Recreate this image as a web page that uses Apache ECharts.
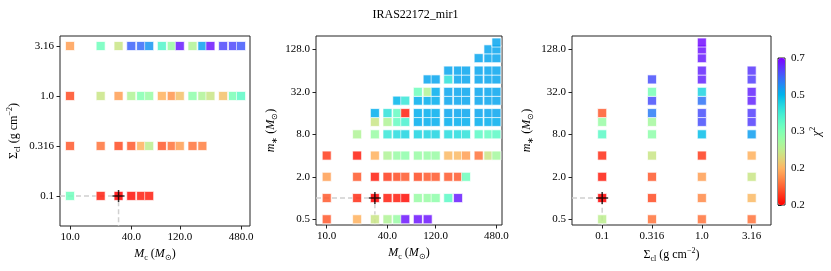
<!DOCTYPE html>
<html><head><meta charset="utf-8">
<script src="https://cdn.jsdelivr.net/npm/echarts@6/dist/echarts.min.js"></script>
<style>html,body{margin:0;padding:0;background:#fff}#c{width:831px;height:271px}</style>
</head><body><div id="c"></div>
<script>
// ---- grids of model parameters ----
const mcGrid = [10, 20, 30, 40, 50, 60, 80, 100, 120, 160, 200, 240, 320, 400, 480];
const sigmaGrid = [0.1, 0.316, 1.0, 3.16];
const mstarGrid = [0.5, 1, 2, 4, 8, 12, 16, 24, 32, 48, 64, 96, 128, 160];

// ---- panel 1: chi2 per (Mc) for each Sigma_cl level ----
const chiSig01   = [0.35, 0.17, 0.16, 0.165, 0.17, 0.17, null, null, null, null, null, null, null, null, null];
const chiSig0316 = [0.19, 0.2, 0.185, 0.19, 0.23, 0.28, 0.19, 0.2, 0.22, 0.2, 0.205, null, null, null, null];
const chiSig1    = [0.185, 0.27, 0.22, 0.29, 0.33, 0.31, 0.23, 0.215, 0.24, 0.32, 0.29, 0.27, 0.24, 0.34, 0.37];
const chiSig316  = [0.22, 0.35, 0.27, 0.58, 0.57, 0.52, 0.38, 0.31, 0.66, 0.29, 0.51, 0.67, 0.61, 0.61, 0.59];

// ---- panel 2: chi2, rows = m*, columns = Mc ----
const _ = null;
const chiMcMstar = [
  [0.19, 0.23, 0.27, 0.29, 0.31, 0.67, 0.67, 0.67, _, _, _, _, _, _, _],
  [0.19, 0.175, 0.16, 0.17, 0.17, 0.165, 0.31, 0.31, 0.32, 0.37, 0.66, _, _, _, _],
  [0.22, 0.19, 0.17, 0.18, 0.185, 0.19, 0.185, 0.19, 0.19, 0.19, 0.19, 0.35, _, _, _],
  [0.18, 0.17, 0.23, 0.29, 0.31, 0.32, 0.31, 0.31, 0.31, 0.235, 0.235, 0.22, 0.2, 0.27, 0.3],
  [_, 0.29, 0.31, 0.41, 0.43, 0.44, 0.44, 0.44, 0.44, 0.43, 0.43, 0.42, 0.37, 0.36, 0.37],
  [_, _, 0.27, 0.29, 0.36, 0.39, 0.49, 0.49, 0.49, 0.49, 0.49, 0.49, 0.49, 0.49, 0.49],
  [_, _, 0.49, 0.42, 0.36, 0.17, 0.49, 0.49, 0.49, 0.5, 0.5, 0.5, 0.5, 0.5, 0.5],
  [_, _, _, _, 0.48, 0.41, 0.49, 0.49, 0.49, 0.5, 0.5, 0.5, 0.5, 0.5, 0.5],
  [_, _, _, _, _, _, 0.35, 0.29, 0.49, 0.5, 0.5, 0.5, 0.5, 0.5, 0.5],
  [_, _, _, _, _, _, _, 0.5, 0.5, 0.42, 0.5, 0.5, 0.5, 0.5, 0.5],
  [_, _, _, _, _, _, _, _, _, 0.5, 0.5, 0.5, 0.5, 0.5, 0.5],
  [_, _, _, _, _, _, _, _, _, _, _, _, 0.5, 0.5, 0.5],
  [_, _, _, _, _, _, _, _, _, _, _, _, _, 0.5, 0.5],
  [_, _, _, _, _, _, _, _, _, _, _, _, _, _, 0.5]
];

// ---- panel 3: chi2, rows = m*, columns = Sigma_cl ----
const chiSigMstar = [
  [0.28, 0.2, 0.2, 0.2],
  [0.16, 0.185, 0.21, 0.235],
  [0.17, 0.19, 0.22, 0.27],
  [0.175, 0.27, 0.18, 0.23],
  [0.37, 0.32, 0.47, 0.51],
  [0.31, 0.3, 0.6, 0.62],
  [0.19, 0.55, 0.6, 0.62],
  [_, 0.6, 0.56, 0.65],
  [_, 0.34, 0.44, 0.65],
  [_, 0.6, 0.65, 0.62],
  [_, _, 0.65, 0.63],
  [_, _, 0.66, _],
  [_, _, 0.67, _],
  [_, _, 0.68, _]
];

// ---- best fit model ----
const bestMc = 30, bestSigma = 0.1, bestMstar = 1;

// ---- ticks ----
const mcTicks = [10, 40, 120, 480];
const mcTickLabels = ['10.0', '40.0', '120.0', '480.0'];
const sigmaTicks = [0.1, 0.316, 1.0, 3.16];
const sigmaTickLabels = ['0.1', '0.316', '1.0', '3.16'];
const mstarTicks = [0.5, 2, 8, 32, 128];
const mstarTickLabels = ['0.5', '2.0', '8.0', '32.0', '128.0'];
const cbarTicks = [0.16, 0.2313, 0.3347, 0.4840, 0.7];
const cbarTickLabels = ['0.2', '0.2', '0.3', '0.5', '0.7'];

// axis ranges
const mcMin1 = 7.97, mcMax1 = 588;
const mcMin2 = 7.83, mcMax2 = 545;
const sigMin = 0.05, sigMax = 3.98;
const sigMin3 = 0.0498, sigMax3 = 4.94;
const msMin = 0.415, msMax = 198;
const chiMin = 0.16, chiMax = 0.7;

// ---- build data ----
function pt(x, y, c) { return [x, y, c, Math.log10(c)]; }
const p1 = [];
[[chiSig01, 0], [chiSig0316, 1], [chiSig1, 2], [chiSig316, 3]].forEach(([row, si]) => {
  row.forEach((c, i) => { if (c != null) p1.push(pt(mcGrid[i], sigmaGrid[si], c)); });
});
const p2 = [];
chiMcMstar.forEach((row, mi) => row.forEach((c, i) => { if (c != null) p2.push(pt(mcGrid[i], mstarGrid[mi], c)); }));
const p3 = [];
chiSigMstar.forEach((row, mi) => row.forEach((c, i) => { if (c != null) p3.push(pt(sigmaGrid[i], mstarGrid[mi], c)); }));

// rainbow_r colormap stops
function rainbow(x) {
  const cl = v => Math.max(0, Math.min(1, v));
  const r = cl(Math.abs(2 * x - 0.5)), g = cl(Math.sin(Math.PI * x)), b = cl(Math.cos(Math.PI * x / 2));
  return 'rgb(' + Math.round(r * 255) + ',' + Math.round(g * 255) + ',' + Math.round(b * 255) + ')';
}
const cmap = [];
for (let i = 0; i <= 24; i++) cmap.push(rainbow(1 - i / 24));

const FONT = 'Liberation Serif, Times New Roman, serif';
function lab(ticks, labels) {
  return function (v) {
    let best = 0, bd = Infinity;
    ticks.forEach((t, i) => { const d = Math.abs(Math.log(v) - Math.log(t)); if (d < bd) { bd = d; best = i; } });
    return labels[best];
  };
}
const richName = {
  n: { fontFamily: FONT, fontSize: 12, color: '#000', lineHeight: 16 },
  it: { fontFamily: FONT, fontSize: 12, fontStyle: 'italic', color: '#000', lineHeight: 16 },
  sub: { fontFamily: FONT, fontSize: 8, color: '#000', lineHeight: 8, verticalAlign: 'bottom' },
  sup: { fontFamily: FONT, fontSize: 8, color: '#000', lineHeight: 8, verticalAlign: 'top' }
};
function logAxis(gi, min, max, ticks, labels, extra) {
  return Object.assign({
    type: 'log', logBase: 10, gridIndex: gi, min: min, max: max,
    axisLine: { show: false },
    splitLine: { show: false },
    axisTick: { show: true, inside: false, length: 3.5, customValues: ticks, lineStyle: { color: '#222', width: 1 } },
    axisLabel: { customValues: ticks, formatter: lab(ticks, labels), fontFamily: FONT, fontSize: 11, color: '#000', margin: 6 },
    nameLocation: 'middle', nameTextStyle: { rich: richName }
  }, extra || {});
}
const mcName = '{it|M}{sub|c}{n| (}{it|M}{sub|⊙}{n|)}';
const msName = '{it|m}{sub|∗}{n| (}{it|M}{sub|⊙}{n|)}';
const sigName = '{n|Σ}{sub|cl}{n| (g cm}{sup|−2}{n|)}';

const gridStyle = { show: true, borderColor: '#222', borderWidth: 1, backgroundColor: 'transparent' };
const scatterStyle = { opacity: 0.86, borderColor: '#fff', borderWidth: 0.8 };
const plus = 'path://M5,0L5,10M0,5L10,5';

const option = {
  animation: false,
  backgroundColor: '#fff',
  title: { text: 'IRAS22172_mir1', left: 'center', top: 4, textStyle: { fontFamily: FONT, fontSize: 12, fontWeight: 'normal', color: '#000' } },
  grid: [
    Object.assign({ left: 60, top: 36, width: 190, height: 190 }, gridStyle),
    Object.assign({ left: 316, top: 36, width: 186, height: 189 }, gridStyle),
    Object.assign({ left: 572, top: 36, width: 199, height: 189 }, gridStyle),
    Object.assign({ left: 778, top: 58, width: 7, height: 147 }, gridStyle)
  ],
  xAxis: [
    logAxis(0, mcMin1, mcMax1, mcTicks, mcTickLabels, { name: mcName, nameGap: 20 }),
    logAxis(1, mcMin2, mcMax2, mcTicks, mcTickLabels, { name: mcName, nameGap: 20 }),
    logAxis(2, sigMin3, sigMax3, sigmaTicks, sigmaTickLabels, { name: sigName, nameGap: 20 }),
    { type: 'value', gridIndex: 3, show: false, min: 0, max: 1 }
  ],
  yAxis: [
    logAxis(0, sigMin, sigMax, sigmaTicks, sigmaTickLabels, { name: sigName, nameGap: 38, nameRotate: 90 }),
    logAxis(1, msMin, msMax, mstarTicks, mstarTickLabels, { name: msName, nameGap: 37, nameRotate: 90 }),
    logAxis(2, msMin, msMax, mstarTicks, mstarTickLabels, { name: msName, nameGap: 37, nameRotate: 90 }),
    logAxis(3, chiMin, chiMax, cbarTicks, cbarTickLabels, { position: 'right', name: '{it|χ}{sup|2}', nameGap: 22, nameRotate: 90 })
  ],
  visualMap: {
    type: 'continuous', seriesIndex: [0, 1, 2], dimension: 3,
    min: Math.log10(chiMin), max: Math.log10(chiMax),
    inRange: { color: cmap },
    show: true, calculable: false, left: 778, top: 58, itemWidth: 7, itemHeight: 147, padding: 0,
    text: null, showLabel: false, hoverLink: false
  },
  series: [
    { type: 'scatter', xAxisIndex: 0, yAxisIndex: 0, data: p1, symbol: 'rect', symbolSize: 9, itemStyle: scatterStyle, z: 3, silent: true },
    { type: 'scatter', xAxisIndex: 1, yAxisIndex: 1, data: p2, symbol: 'rect', symbolSize: 9, itemStyle: scatterStyle, z: 3, silent: true },
    { type: 'scatter', xAxisIndex: 2, yAxisIndex: 2, data: p3, symbol: 'rect', symbolSize: 9, itemStyle: scatterStyle, z: 3, silent: true },
    { type: 'line', xAxisIndex: 0, yAxisIndex: 0, data: [[mcMin1, bestSigma], [bestMc, bestSigma], [bestMc, sigMin]], symbol: 'none', lineStyle: { color: '#d0d0d0', type: [5, 3], width: 1.5 }, z: 2, silent: true },
    { type: 'line', xAxisIndex: 1, yAxisIndex: 1, data: [[mcMin2, bestMstar], [bestMc, bestMstar], [bestMc, msMin]], symbol: 'none', lineStyle: { color: '#d0d0d0', type: [5, 3], width: 1.5 }, z: 2, silent: true },
    { type: 'line', xAxisIndex: 2, yAxisIndex: 2, data: [[sigMin3, bestMstar], [bestSigma, bestMstar], [bestSigma, msMin]], symbol: 'none', lineStyle: { color: '#d0d0d0', type: [5, 3], width: 1.5 }, z: 2, silent: true },
    { type: 'scatter', xAxisIndex: 0, yAxisIndex: 0, data: [[bestMc, bestSigma]], symbol: plus, symbolSize: 12, itemStyle: { color: 'none', borderColor: '#000', borderWidth: 1.5 }, z: 5, silent: true },
    { type: 'scatter', xAxisIndex: 1, yAxisIndex: 1, data: [[bestMc, bestMstar]], symbol: plus, symbolSize: 12, itemStyle: { color: 'none', borderColor: '#000', borderWidth: 1.5 }, z: 5, silent: true },
    { type: 'scatter', xAxisIndex: 2, yAxisIndex: 2, data: [[bestSigma, bestMstar]], symbol: plus, symbolSize: 12, itemStyle: { color: 'none', borderColor: '#000', borderWidth: 1.5 }, z: 5, silent: true }
  ]
};
const chart = echarts.init(document.getElementById('c'), null, { renderer: 'canvas' });
chart.setOption(option);
</script>
</body></html>
